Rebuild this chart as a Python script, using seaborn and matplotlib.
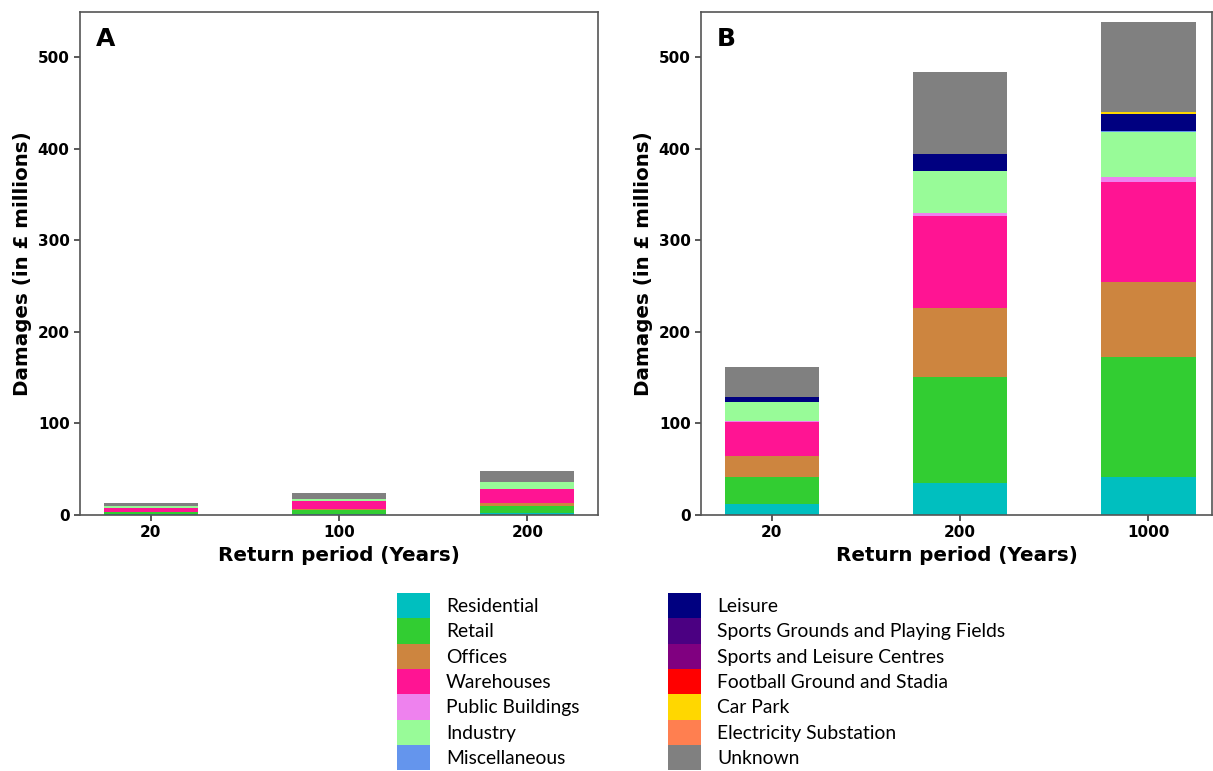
import numpy as np
import pandas as pd
import matplotlib.pyplot as plt
import seaborn as sns
from matplotlib.patches import Patch

sns.set_theme(style='ticks')
plt.rcParams['font.family'] = ['DejaVu Sans']
plt.rcParams['text.color'] = 'black'
plt.rcParams['axes.labelcolor'] = 'black'
plt.rcParams['xtick.color'] = 'black'
plt.rcParams['ytick.color'] = 'black'

# categorias de uso do solo (ordem de empilhamento, de baixo para cima)
categories = ['Residential', 'Retail', 'Offices', 'Warehouses', 'Public Buildings',
              'Industry', 'Miscellaneous', 'Leisure', 'Sports Grounds and Playing Fields',
              'Sports and Leisure Centres', 'Football Ground and Stadia', 'Car Park',
              'Electricity Substation', 'Unknown']
colors = ['#00BFBF', '#32CD32', '#CD853F', '#FF1493', '#EE82EE', '#98FB98', '#6495ED',
          '#000080', '#4B0082', '#800080', '#FF0000', '#FFD700', '#FF7F50', '#808080']

# painel A
periods_a = ['20', '100', '200']
residential_a = [0.8, 1.5, 1.8]
retail_a = [2.5, 4.0, 8.0]
offices_a = [0.5, 0.7, 3.7]
warehouses_a = [4.0, 9.0, 14.6]
public_a = [0.1, 0.3, 0.4]
industry_a = [2.0, 2.5, 7.0]
misc_a = [0, 0, 0]
leisure_a = [0, 0, 0]
sportsgrounds_a = [0, 0, 0]
sportscentres_a = [0, 0, 0]
football_a = [0, 0, 0]
carpark_a = [0, 0, 0]
substation_a = [0, 0, 0]
unknown_a = [3.5, 6.0, 13.0]

# painel B
periods_b = ['20', '200', '1000']
residential_b = [12, 35, 41]
retail_b = [29, 116, 131]
offices_b = [23, 75, 82.5]
warehouses_b = [38, 100, 108.5]
public_b = [0.5, 4, 5.5]
industry_b = [20.5, 46, 50]
misc_b = [0, 0, 1]
leisure_b = [6, 18, 18.5]
sportsgrounds_b = [0, 0, 0]
sportscentres_b = [0, 0, 0]
football_b = [0, 0, 0]
carpark_b = [0, 0, 1.5]
substation_b = [0, 0, 0]
unknown_b = [32, 90, 98.5]

series_a = [residential_a, retail_a, offices_a, warehouses_a, public_a, industry_a, misc_a,
            leisure_a, sportsgrounds_a, sportscentres_a, football_a, carpark_a, substation_a, unknown_a]
series_b = [residential_b, retail_b, offices_b, warehouses_b, public_b, industry_b, misc_b,
            leisure_b, sportsgrounds_b, sportscentres_b, football_b, carpark_b, substation_b, unknown_b]


def stacked(ax, periods, series, letter):
    df = pd.DataFrame(np.array(series).T, columns=categories)
    df['period'] = periods
    cum = df[categories].cumsum(axis=1)
    # desenha do total para baixo, cada barra por cima da anterior
    for cat, col in reversed(list(zip(categories, colors))):
        sns.barplot(x=df['period'], y=cum[cat], color=col, width=0.5,
                    saturation=1, linewidth=0, ax=ax)
    ax.set_ylim(0, 549)
    ax.set_yticks([0, 100, 200, 300, 400, 500])
    ax.set_xlabel('Return period (Years)', fontsize=14.3, fontweight='bold')
    ax.set_ylabel('Damages (in £ millions)', fontsize=14.3, fontweight='bold')
    ax.tick_params(labelsize=11, length=4, color='#444444')
    for lab in ax.get_xticklabels() + ax.get_yticklabels():
        lab.set_fontweight('bold')
    for sp in ax.spines.values():
        sp.set_color('#555555')
        sp.set_linewidth(1.2)
    ax.text(0.03, 0.97, letter, transform=ax.transAxes, fontsize=18,
            fontweight='bold', va='top', ha='left')


fig = plt.figure(figsize=(12.13, 7.71), dpi=100)
ax1 = fig.add_axes([80 / 1213, 1 - 515 / 771, 518 / 1213, 503 / 771])
ax2 = fig.add_axes([701 / 1213, 1 - 515 / 771, 511 / 1213, 503 / 771])

stacked(ax1, periods_a, series_a, 'A')
stacked(ax2, periods_b, series_b, 'B')
ax1.set_xlim(-0.375, 2.375)
ax2.set_xlim(-0.375, -0.375 + 511 / 188.4)

handles = [Patch(facecolor=c, edgecolor='none', label=l) for l, c in zip(categories, colors)]
fig.legend(handles=handles, ncol=2, loc='upper left',
           bbox_to_anchor=(397 / 1213, 1 - 593 / 771), frameon=False,
           prop={'family': 'Lato', 'size': 13.9}, handlelength=1.71, handleheight=1.64,
           labelspacing=0, handletextpad=0.83, columnspacing=4.6,
           borderpad=0, borderaxespad=0)

plt.savefig('out.png', dpi=100)
